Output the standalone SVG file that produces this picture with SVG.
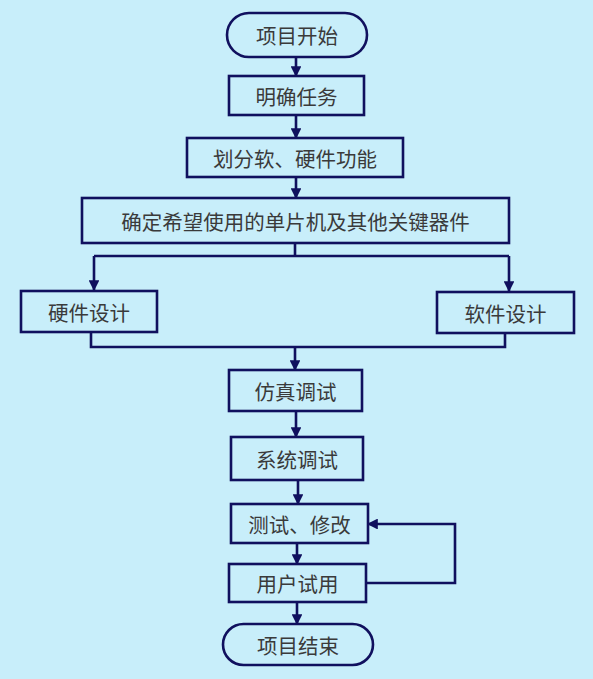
<svg xmlns="http://www.w3.org/2000/svg" width="593" height="679" viewBox="0 0 593 679">
<defs>
<style>
.n{fill:none;stroke:#10105e;stroke-width:2.6}
.t{font-family:"Noto Sans CJK SC","Noto Sans",sans-serif;font-size:20.5px;fill:#3a3a3a;text-anchor:middle;dominant-baseline:central}
.c{fill:none;stroke:#10105e;stroke-width:2.6}
</style>
<marker id="a" viewBox="0 0 10 10" refX="9" refY="5" markerWidth="4.2" markerHeight="4.2" orient="auto" markerUnits="strokeWidth">
<path d="M0,0 L10,5 L0,10 z" fill="#10105e"/>
</marker>
</defs>
<rect width="593" height="679" fill="#C8EEFA"/>
<g id="connectors">
<line class="c" x1="296" y1="57" x2="296" y2="76" marker-end="url(#a)"/>
<line class="c" x1="296" y1="115" x2="296" y2="138" marker-end="url(#a)"/>
<line class="c" x1="296" y1="177" x2="296" y2="198" marker-end="url(#a)"/>
<polyline class="c" points="295,243 295,256"/>
<polyline class="c" points="94,256 509,256"/>
<line class="c" x1="94" y1="256" x2="94" y2="290" marker-end="url(#a)"/>
<line class="c" x1="509" y1="256" x2="509" y2="291" marker-end="url(#a)"/>
<polyline class="c" points="91,332 91,347 505,347 505,333"/>
<line class="c" x1="295" y1="347" x2="295" y2="370" marker-end="url(#a)"/>
<line class="c" x1="296" y1="411" x2="296" y2="437" marker-end="url(#a)"/>
<line class="c" x1="298" y1="480" x2="298" y2="504" marker-end="url(#a)"/>
<line class="c" x1="297" y1="543" x2="297" y2="564" marker-end="url(#a)"/>
<polyline class="c" points="366,583 455,583 455,524 368,524" marker-end="url(#a)"/>
<line class="c" x1="297" y1="602" x2="297" y2="624" marker-end="url(#a)"/>
</g>
<g id="start"><rect class="n" x="227" y="13" width="140" height="44" rx="22"/><text class="t" x="297" y="35">项目开始</text></g>
<g id="task"><rect class="n" x="229" y="76" width="135" height="39"/><text class="t" x="296.5" y="95.5">明确任务</text></g>
<g id="divide"><rect class="n" x="187" y="138" width="216" height="39"/><text class="t" x="295" y="157.5">划分软、硬件功能</text></g>
<g id="choose"><rect class="n" x="82" y="198" width="427" height="45"/><text class="t" x="295.5" y="221">确定希望使用的单片机及其他关键器件</text></g>
<g id="hw"><rect class="n" x="21" y="291" width="136" height="41"/><text class="t" x="89" y="312">硬件设计</text></g>
<g id="sw"><rect class="n" x="437" y="292" width="137" height="41"/><text class="t" x="505.5" y="313">软件设计</text></g>
<g id="sim"><rect class="n" x="229" y="370" width="133" height="41"/><text class="t" x="295.5" y="391">仿真调试</text></g>
<g id="sys"><rect class="n" x="231" y="437" width="132" height="43"/><text class="t" x="297" y="458.5">系统调试</text></g>
<g id="test"><rect class="n" x="231" y="504" width="137" height="39"/><text class="t" x="299.5" y="523.5">测试、修改</text></g>
<g id="user"><rect class="n" x="229" y="564" width="137" height="38"/><text class="t" x="297.5" y="583">用户试用</text></g>
<g id="end"><rect class="n" x="223" y="624" width="150" height="41" rx="20.5"/><text class="t" x="298" y="644.5">项目结束</text></g>
</svg>
